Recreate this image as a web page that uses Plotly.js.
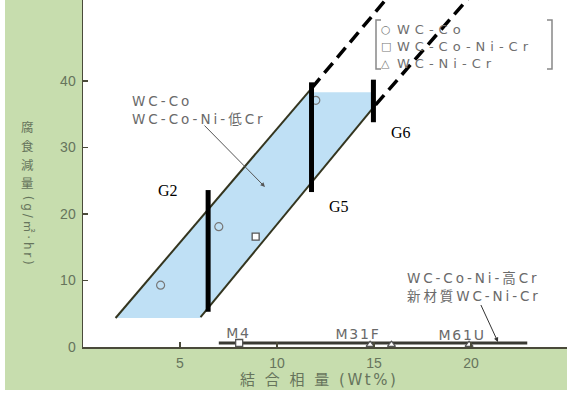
<!DOCTYPE html>
<html><head><meta charset="utf-8">
<script src="https://cdn.plot.ly/plotly-3.0.1.min.js"></script>
<style>
html,body{margin:0;padding:0;background:#fff;}
#chart{width:578px;height:398px;}
</style>
</head><body><div id="chart"></div>
<script>
// ---------------- data ----------------
const bandFillX = [1.68, 6.06, 14.97, 14.97, 11.6, 1.68];
const bandFillY = [4.36, 4.36, 36.0, 38.3, 38.3, 4.36];
const leftSolidX = [1.68, 11.78];
const leftSolidY = [4.36, 38.9];
const leftDashX = [11.78, 15.8];
const leftDashY = [38.9, 52.9];
const rightSolidX = [6.06, 15.08];
const rightSolidY = [4.5, 36.4];
const rightDashX = [15.08, 20.0];
const rightDashY = [36.4, 52.9];

const gradeNames = ['G2', 'G5', 'G6'];
const gradeX = [6.45, 11.78, 14.97];
const gradeLow = [5.3, 23.3, 33.8];
const gradeHigh = [23.6, 39.8, 40.2];
const gradeLabelX = [4.38, 13.2, 16.4];
const gradeLabelY = [23.6, 21.2, 32.3];

const wcCoX = [4.0, 7.0, 12.0];
const wcCoY = [9.3, 18.1, 37.1];
const wcCoNiCrX = [8.9, 8.05];
const wcCoNiCrY = [16.6, 0.6];
const wcNiCrX = [14.8, 15.9, 19.9];
const wcNiCrY = [0.35, 0.35, 0.35];

const newMatX = [7.0, 22.9];
const newMatY = [0.6, 0.6];

const tagNames = ['M4', 'M31F', 'M61U'];
const tagX = [8.04, 14.18, 19.54];
const tagY = [2.1, 1.95, 1.8];

const xTickVals = [5, 10, 15, 20];
const yTickVals = [0, 10, 20, 30, 40];
const legendNames = ['WC-Co', 'WC-Co-Ni-Cr', 'WC-Ni-Cr'];
const legendSymbols = ['○', '□', '△'];
const yTitleMain = ['腐', '食', '減', '量'];
const yTitleUnit = '(g/㎡·hr)';
const xTitle = '結 合 相 量 (Wt%)';
const bandLabel = 'WC-Co<br>WC-Co-Ni-低Cr';
const newMatLabel = 'WC-Co-Ni-高Cr<br>新材質WC-Ni-Cr';

// ---------------- layout helpers ----------------
const L = 83, T = 0, PW = 484, PH = 347;
const px = v => (v - L) / PW;
const py = v => (PH - v) / PH;
const green = '#c7ddae';
const tickCol = '#66745c';
const textCol = '#6a6a6a';
const fontMain = 'DejaVu Sans, Noto Sans CJK JP, sans-serif';

const traces = [];
traces.push({x: bandFillX, y: bandFillY, mode: 'lines', fill: 'toself', fillcolor: '#bfe0f5',
  line: {width: 0}, hoverinfo: 'skip', showlegend: false});
traces.push({x: leftSolidX, y: leftSolidY, mode: 'lines', line: {color: '#34351f', width: 2}, showlegend: false});
traces.push({x: rightSolidX, y: rightSolidY, mode: 'lines', line: {color: '#34351f', width: 2}, showlegend: false});
traces.push({x: leftDashX, y: leftDashY, mode: 'lines', line: {color: '#000', width: 3.5, dash: '13px,7px'}, showlegend: false});
traces.push({x: rightDashX, y: rightDashY, mode: 'lines', line: {color: '#000', width: 3.5, dash: '13px,7px'}, showlegend: false});
traces.push({x: newMatX, y: newMatY, mode: 'lines', line: {color: '#3a3a33', width: 3}, showlegend: false});
traces.push({x: wcCoX, y: wcCoY, mode: 'markers', name: legendNames[0], showlegend: false,
  marker: {symbol: 'circle-open', size: 8, color: '#777', line: {width: 1.2}}});
traces.push({x: wcCoNiCrX, y: wcCoNiCrY, mode: 'markers', name: legendNames[1], showlegend: false,
  marker: {symbol: 'square', size: 7, color: '#fff', line: {color: '#555', width: 1.3}}});
traces.push({x: wcNiCrX, y: wcNiCrY, mode: 'markers', name: legendNames[2], showlegend: false, cliponaxis: false,
  marker: {symbol: 'triangle-up', size: 7, color: '#fff', line: {color: '#555', width: 1.2}}});
const barX = [], barY = [];
gradeX.forEach((g, i) => { barX.push(g, g, null); barY.push(gradeLow[i], gradeHigh[i], null); });
traces.push({x: barX, y: barY, mode: 'lines', line: {color: '#000', width: 5}, showlegend: false});

const annotations = [];
const spaced = [];
function addAnn(a, ls) { if (ls) spaced.push([annotations.length, ls]); annotations.push(a); }

addAnn({x: 2.42, y: 35.7, xref: 'x', yref: 'y', xanchor: 'left', yanchor: 'middle', align: 'left',
  text: bandLabel, showarrow: false, font: {family: fontMain, size: 13.5, color: textCol}}, 3.0);
addAnn({x: 9.38, y: 24.06, xref: 'x', yref: 'y', ax: -62, ay: -63, text: ' ', showarrow: true,
  arrowhead: 2, arrowsize: 0.9, arrowwidth: 1, arrowcolor: '#555', font: {size: 1}});
addAnn({x: 16.6, y: 9.0, xref: 'x', yref: 'y', xanchor: 'left', yanchor: 'middle', align: 'left',
  text: newMatLabel, showarrow: false, font: {family: fontMain, size: 13.5, color: textCol}}, 2.9);
addAnn({x: 21.39, y: 0.75, xref: 'x', yref: 'y', ax: -18, ay: -39, text: ' ', showarrow: true,
  arrowhead: 2, arrowsize: 0.9, arrowwidth: 1, arrowcolor: '#333', font: {size: 1}});
tagNames.forEach((t, i) => addAnn({x: tagX[i], y: tagY[i], xref: 'x', yref: 'y', xanchor: 'center', yanchor: 'middle',
  text: t, showarrow: false, font: {family: fontMain, size: 14, color: textCol}}, 1.8));
gradeNames.forEach((g, i) => addAnn({x: gradeLabelX[i], y: gradeLabelY[i], xref: 'x', yref: 'y',
  text: g, showarrow: false, bgcolor: '#fff', borderpad: 8,
  font: {family: 'Liberation Serif, serif', size: 16, color: '#000'}}));
const legRows = [30, 46.8, 63.6];
legendSymbols.forEach((s, i) => addAnn({x: px(385.5), y: py(legRows[i]), xref: 'paper', yref: 'paper',
  xanchor: 'center', yanchor: 'middle', text: s, showarrow: false,
  font: {family: 'DejaVu Sans', size: 11, color: '#777'}}));
addAnn({x: px(395), y: py(legRows[1]), xref: 'paper', yref: 'paper', xanchor: 'left', yanchor: 'middle', align: 'left',
  text: legendNames.join('<br>'), showarrow: false, font: {family: fontMain, size: 13, color: '#6f6f6f'}}, 5.0);
const yTitleRows = [126, 145, 164, 183];
yTitleMain.forEach((c, i) => addAnn({x: px(27), y: py(yTitleRows[i]), xref: 'paper', yref: 'paper',
  xanchor: 'center', yanchor: 'middle', text: c, showarrow: false,
  font: {family: 'Noto Sans CJK JP, DejaVu Sans', size: 12.5, color: tickCol}}));
addAnn({x: px(28), y: py(231), xref: 'paper', yref: 'paper', xanchor: 'center', yanchor: 'middle',
  text: yTitleUnit, textangle: 90, showarrow: false,
  font: {family: 'DejaVu Sans, Noto Sans CJK JP', size: 12, color: tickCol}}, 2.8);
addAnn({x: px(238), y: py(380), xref: 'paper', yref: 'paper', xanchor: 'left', yanchor: 'middle', align: 'left',
  text: xTitle, showarrow: false, font: {family: 'DejaVu Sans, Noto Sans CJK JP', size: 15, color: tickCol}}, 2.5);

const shapes = [
  {type: 'rect', xref: 'paper', yref: 'paper', x0: px(5), x1: 0, y0: py(390), y1: 1, fillcolor: green, line: {width: 0}, layer: 'below'},
  {type: 'rect', xref: 'paper', yref: 'paper', x0: 0, x1: px(567), y0: py(390), y1: 0, fillcolor: green, line: {width: 0}, layer: 'below'},
  {type: 'path', xref: 'paper', yref: 'paper', layer: 'above',
    path: `M${px(381)},${py(20)} L${px(376)},${py(20)} L${px(376)},${py(69)} L${px(381)},${py(69)}`,
    line: {color: '#888', width: 1.5}},
  {type: 'path', xref: 'paper', yref: 'paper', layer: 'above',
    path: `M${px(547)},${py(20)} L${px(552)},${py(20)} L${px(552)},${py(69)} L${px(547)},${py(69)}`,
    line: {color: '#888', width: 1.5}}
];

const css = spaced.map(([i, ls]) => `.annotation[data-index="${i}"] text{letter-spacing:${ls}px;}`).join('\n');
const st = document.createElement('style'); st.textContent = css; document.head.appendChild(st);

const axisCommon = {showgrid: false, zeroline: false, showline: true, linecolor: '#4a4a3a', linewidth: 1.5,
  ticks: 'inside', ticklen: 5, tickwidth: 1.5, tickcolor: '#4a4a3a',
  tickfont: {family: 'Liberation Sans, sans-serif', size: 14, color: tickCol}, fixedrange: true};

const layout = {
  width: 578, height: 398,
  margin: {l: L, r: 578 - L - PW, t: T, b: 398 - PH},
  paper_bgcolor: '#fff', plot_bgcolor: '#fff',
  showlegend: false,
  xaxis: Object.assign({}, axisCommon, {range: [0, PW / 19.4], tickvals: xTickVals, ticklabelstandoff: 3}),
  yaxis: Object.assign({}, axisCommon, {range: [0, PH / 6.65], tickvals: yTickVals, ticklabelstandoff: 3}),
  annotations: annotations,
  shapes: shapes
};

Plotly.newPlot('chart', traces, layout, {displayModeBar: false, staticPlot: true});
</script>
</body></html>
